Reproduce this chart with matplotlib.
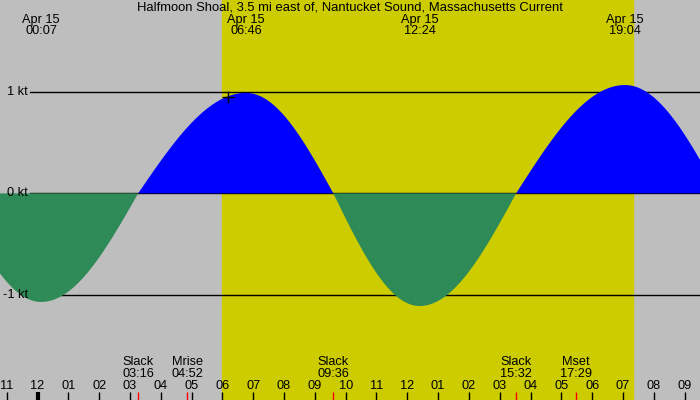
import numpy as np
import matplotlib
matplotlib.use("Agg")
import matplotlib.pyplot as plt
import matplotlib.transforms as mtransforms

# ---- data (hours after midnight, Apr 15) ----
title = "Halfmoon Shoal, 3.5 mi east of, Nantucket Sound, Massachusetts Current"
# current events: slack (0), max flood (+), max ebb (-)
event_times = [-2.71, 0.117, 3.267, 6.767, 9.6, 12.4, 15.533, 19.067, 22.11]
event_values = [0.0, -1.07, 0.0, 0.99, 0.0, -1.11, 0.0, 1.067, 0.0]
# labelled extremes at top
top_times = [0.117, 6.767, 12.4, 19.067]
top_dates = ["Apr 15", "Apr 15", "Apr 15", "Apr 15"]
top_labels = ["00:07", "06:46", "12:24", "19:04"]
# labelled events at bottom
bottom_times = [3.267, 4.867, 9.6, 15.533, 17.483]
bottom_names = ["Slack", "Mrise", "Slack", "Slack", "Mset"]
bottom_labels = ["03:16", "04:52", "09:36", "15:32", "17:29"]
# hour ticks
hour_ticks = list(range(-1, 22))
hour_labels = ["11", "12", "01", "02", "03", "04", "05", "06", "07", "08", "09", "10",
               "11", "12", "01", "02", "03", "04", "05", "06", "07", "08", "09"]
# daylight
sunrise, sunset = 6.0, 19.33
# y gridlines
y_levels = [1, 0, -1]
y_labels = ["1 kt", "0 kt", "-1 kt"]
# small marker
marker_time, marker_value = 6.17, 0.95

# ---- build smooth curve through events (quarter-wave segments) ----
t = np.linspace(-1.3, 21.6, 3000)
v = np.zeros_like(t)
et = np.array(event_times)
ev = np.array(event_values)
for i in range(len(et) - 1):
    a, b = et[i], et[i + 1]
    m = (t >= a) & (t <= b)
    f = (t[m] - a) / (b - a)
    if ev[i] == 0:   # slack -> extreme
        v[m] = ev[i + 1] * np.sin(np.pi / 2 * f)
    else:            # extreme -> slack
        v[m] = ev[i] * np.cos(np.pi / 2 * f)

plt.rcParams['font.family'] = ['Liberation Sans', 'DejaVu Sans']
fig = plt.figure(figsize=(7, 4), dpi=100)
fig.patch.set_facecolor("#bebebe")
ax = fig.add_axes([0, 0, 1, 1])
ax.set_xlim(-1.217, 21.50)
ax.set_ylim(-2.036, 1.905)
ax.axis("off")

ax.axvspan(sunrise, sunset, color="#cccc00", zorder=1)

yt = mtransforms.blended_transform_factory(ax.transAxes, ax.transData)
for yl, lab in zip(y_levels, y_labels):
    ax.axhline(yl, xmin=30 / 700, xmax=1, color="black", lw=1, zorder=2)
    ax.text(28 / 700, yl, lab, transform=yt, ha="right", va="center", fontsize=9.2, zorder=5)

ax.fill_between(t, v, 0, where=v > 0, interpolate=True, color="#0000ff", lw=0, zorder=3)
ax.fill_between(t, v, 0, where=v < 0, interpolate=True, color="#2e8b57", lw=0, zorder=3)

ax.plot([marker_time], [marker_value], marker="+", color="black", ms=8, mew=1, zorder=4)

bt = mtransforms.blended_transform_factory(ax.transData, ax.transAxes)

ax.text(0.5, 1 - 7.5 / 400, title, transform=ax.transAxes, ha="center", va="center", fontsize=9.4)
for x, d, lab in zip(top_times, top_dates, top_labels):
    ax.text(x, 1 - 20 / 400, d, transform=bt, ha="center", va="center", fontsize=9.2)
    ax.text(x, 1 - 31.5 / 400, lab, transform=bt, ha="center", va="center", fontsize=9.2)

for x, n, lab in zip(bottom_times, bottom_names, bottom_labels):
    ax.text(x, 1 - 362 / 400, n, transform=bt, ha="center", va="center", fontsize=9.2)
    ax.text(x, 1 - 374 / 400, lab, transform=bt, ha="center", va="center", fontsize=9.2)
    ax.vlines(x, 0, 8 / 400, transform=bt, color="red", lw=1, zorder=6)

for h, lab in zip(hour_ticks, hour_labels):
    ax.text(h, 1 - 386 / 400, lab, transform=bt, ha="center", va="center", fontsize=9.2)
    ax.vlines(h, 0, 8 / 400, transform=bt, color="black", lw=3 if h == 0 else 1, zorder=6)

fig.savefig("out.png", dpi=100, facecolor=fig.get_facecolor())
